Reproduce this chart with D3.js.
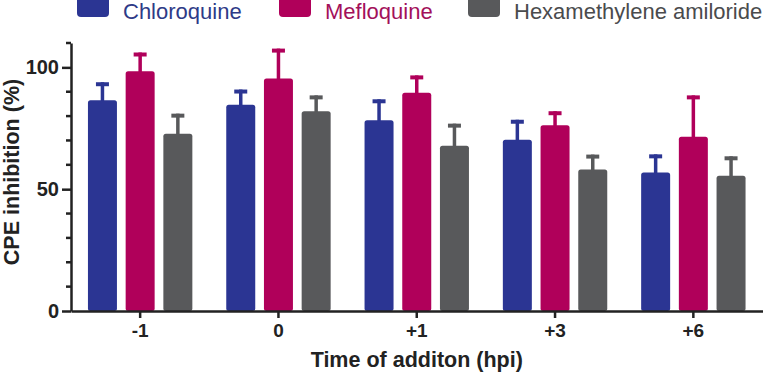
<!DOCTYPE html>
<html>
<head>
<meta charset="utf-8">
<script src="https://cdn.jsdelivr.net/npm/d3@7"></script>
<style>
  html, body { margin: 0; padding: 0; background: #fff; }
  svg { display: block; font-family: "Liberation Sans", Arial, sans-serif; }
</style>
</head>
<body>
<svg id="chart"></svg>
<script>
const categories = ['-1', '0', '+1', '+3', '+6'];
const seriesNames = ['Chloroquine', 'Mefloquine', 'Hexamethylene amiloride'];
const chloroquine = [86.5, 84.7, 78.3, 70.3, 56.8];
const chloroquineErr = [7.4, 6.2, 8.6, 8.2, 7.5];
const mefloquine = [98.4, 95.4, 89.6, 76.2, 71.5];
const mefloquineErr = [7.7, 12.3, 7.1, 5.8, 17.0];
const hma = [72.8, 82.0, 67.8, 58.1, 55.5];
const hmaErr = [8.2, 6.5, 9.1, 6.1, 8.0];
const yMajorTicks = [0, 50, 100];
const yMinorTicks = [10, 20, 30, 40, 60, 70, 80, 90, 110];

const colors = { 'Chloroquine': '#2b3593', 'Mefloquine': '#b0005a', 'Hexamethylene amiloride': '#58595b' };
const textColors = { 'Chloroquine': '#2e3a87', 'Mefloquine': '#a3105a', 'Hexamethylene amiloride': '#4a4b4d' };

const values = { 'Chloroquine': chloroquine, 'Mefloquine': mefloquine, 'Hexamethylene amiloride': hma };
const errors = { 'Chloroquine': chloroquineErr, 'Mefloquine': mefloquineErr, 'Hexamethylene amiloride': hmaErr };

const width = 766, height = 374;
const margin = { top: 43, right: 3.5, bottom: 63, left: 71 };

const svg = d3.select('#chart')
  .attr('width', width)
  .attr('height', height)
  .attr('viewBox', `0 0 ${width} ${height}`);

const x = d3.scaleBand()
  .domain(categories)
  .range([margin.left, width - margin.right]);

const xSub = d3.scaleBand()
  .domain(seriesNames)
  .range([-52.2, 52.2])
  .paddingInner(0.231);

const y = d3.scaleLinear()
  .domain([0, 110])
  .range([height - margin.bottom, margin.top]);

const axisColor = '#222';

// Bars + error bars
const rows = [];
categories.forEach((c, i) => {
  seriesNames.forEach(s => {
    rows.push({ cat: c, series: s, value: values[s][i], err: errors[s][i] });
  });
});

const g = svg.append('g');
const cx = d => x(d.cat) + x.bandwidth() / 2 + xSub(d.series) + xSub.bandwidth() / 2;

// error stems (upper only)
g.selectAll('.err-stem')
  .data(rows)
  .join('line')
  .attr('class', 'err-stem')
  .attr('x1', cx).attr('x2', cx)
  .attr('y1', d => y(d.value) + 2)
  .attr('y2', d => y(d.value + d.err))
  .attr('stroke', d => colors[d.series])
  .attr('stroke-width', 3.5);

g.selectAll('.err-cap')
  .data(rows)
  .join('line')
  .attr('class', 'err-cap')
  .attr('x1', d => cx(d) - 6.5).attr('x2', d => cx(d) + 6.5)
  .attr('y1', d => y(d.value + d.err) + 2)
  .attr('y2', d => y(d.value + d.err) + 2)
  .attr('stroke', d => colors[d.series])
  .attr('stroke-width', 4);

g.selectAll('.bar')
  .data(rows)
  .join('rect')
  .attr('class', 'bar')
  .attr('x', d => cx(d) - xSub.bandwidth() / 2)
  .attr('width', xSub.bandwidth())
  .attr('y', d => y(d.value))
  .attr('height', d => y(0) - y(d.value))
  .attr('rx', 2.5)
  .attr('fill', d => colors[d.series]);

// Y axis
const yAxis = svg.append('g')
  .attr('transform', `translate(${margin.left},0)`)
  .call(d3.axisLeft(y).tickValues(yMajorTicks).tickSize(9).tickPadding(3).tickSizeOuter(0));
yAxis.select('.domain').attr('stroke', axisColor).attr('stroke-width', 2.5);
yAxis.selectAll('.tick line').attr('stroke', axisColor).attr('stroke-width', 2.5);
yAxis.selectAll('.tick text')
  .attr('fill', axisColor)
  .attr('font-size', '20px')
  .attr('font-weight', 'bold')
  .attr('font-family', '"Liberation Sans", Arial, sans-serif');

svg.append('g')
  .selectAll('line')
  .data(yMinorTicks)
  .join('line')
  .attr('x1', margin.left - 5).attr('x2', margin.left)
  .attr('y1', d => y(d)).attr('y2', d => y(d))
  .attr('stroke', axisColor)
  .attr('stroke-width', 2.5);

// X axis
const xAxis = svg.append('g')
  .attr('transform', `translate(0,${y(0)})`)
  .call(d3.axisBottom(x).tickSize(7).tickPadding(6).tickSizeOuter(0));
xAxis.select('.domain').attr('stroke', axisColor).attr('stroke-width', 2.5);
xAxis.selectAll('.tick line').attr('stroke', axisColor).attr('stroke-width', 2.5);
xAxis.selectAll('.tick text')
  .attr('fill', axisColor)
  .attr('font-size', '19px')
  .attr('font-weight', 'bold')
  .attr('font-family', '"Liberation Sans", Arial, sans-serif');

// Axis titles
svg.append('text')
  .attr('x', (margin.left + width - margin.right) / 2)
  .attr('y', 367)
  .attr('text-anchor', 'middle')
  .attr('font-size', '21.5px')
  .attr('font-weight', 'bold')
  .attr('fill', axisColor)
  .text('Time of additon (hpi)');

svg.append('text')
  .attr('transform', 'rotate(-90)')
  .attr('x', -172)
  .attr('y', 19)
  .attr('text-anchor', 'middle')
  .attr('font-size', '21.5px')
  .attr('font-weight', 'bold')
  .attr('fill', axisColor)
  .text('CPE inhibition (%)');

// Legend
const legendX = [77, 279, 468];
const legend = svg.append('g');
seriesNames.forEach((s, i) => {
  const lg = legend.append('g').attr('transform', `translate(${legendX[i]},0)`);
  lg.append('rect')
    .attr('x', 0).attr('y', -4)
    .attr('width', 32).attr('height', 21)
    .attr('rx', 4)
    .attr('fill', colors[s]);
  lg.append('text')
    .attr('x', 46).attr('y', 19)
    .attr('font-size', '22px')
    .attr('fill', textColors[s])
    .text(s);
});
</script>
</body>
</html>
